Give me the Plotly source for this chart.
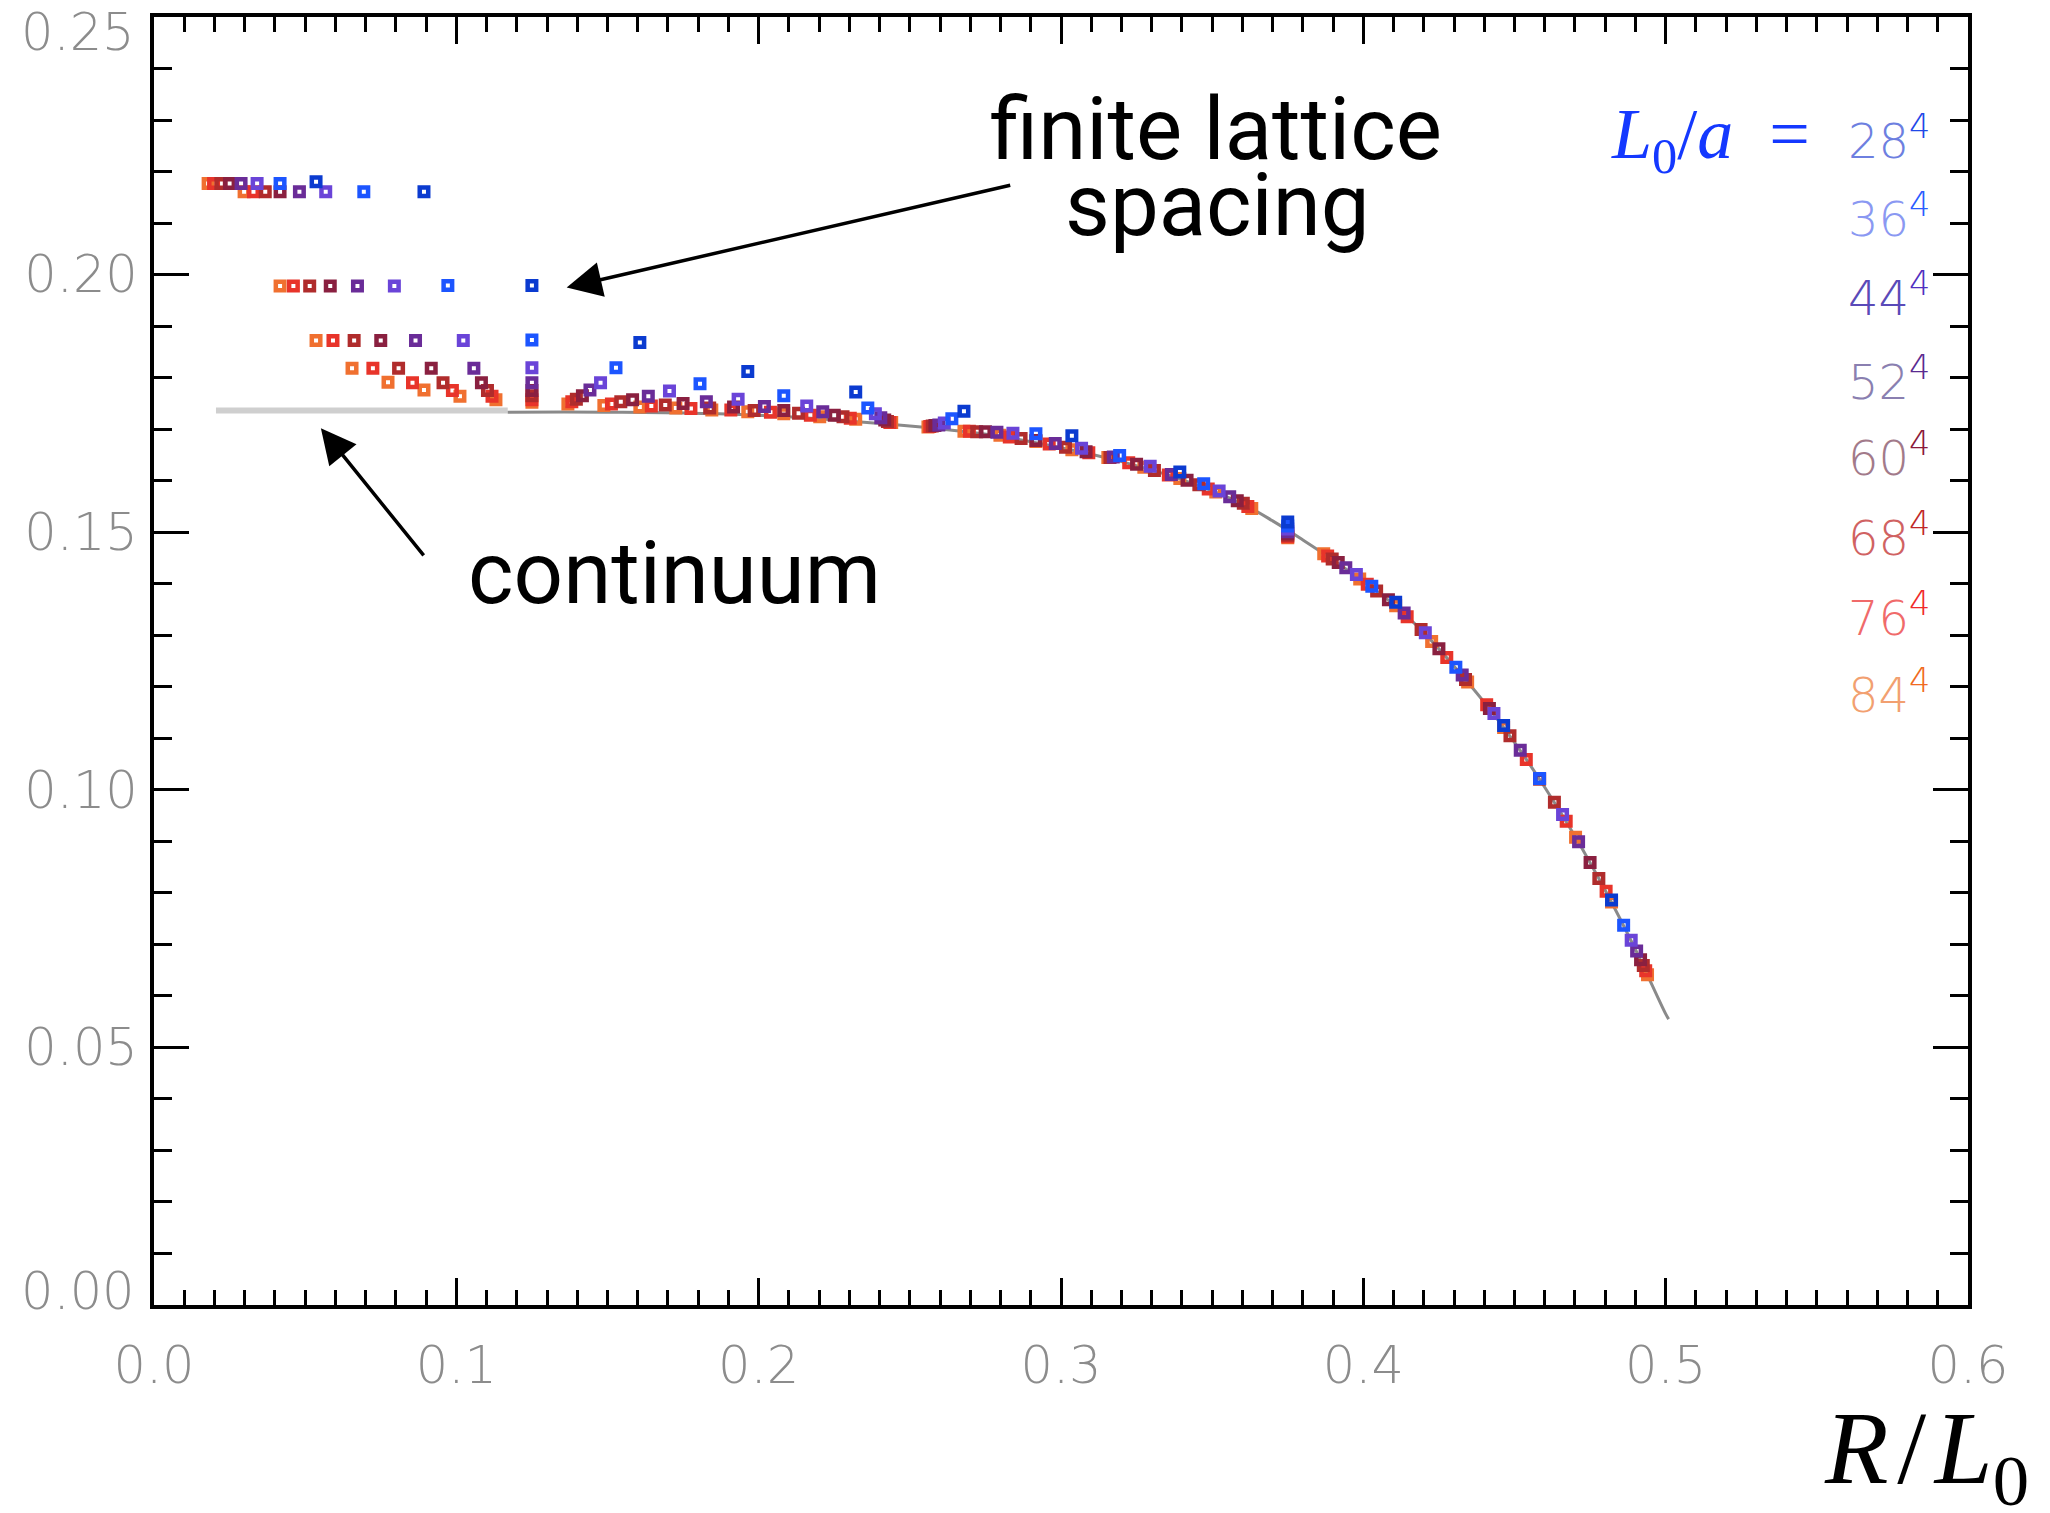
import plotly.graph_objects as go

# ---------------- data ----------------
lattice_labels = ["28", "36", "44", "52", "60", "68", "76", "84"]
series_colors = ["#0b3bd0", "#1c55ff", "#6a44d8", "#6a2c98", "#8a2040", "#b02c2c", "#e8342a", "#f07030"]
label_colors = ["#6d7fe0", "#8a98f2", "#5a4ab8", "#8a7fb0", "#a27a8a", "#d06262", "#f06a6a", "#f2a070"]
sup_colors = ["#1f48e8", "#2a5cff", "#5030c0", "#5a2a90", "#8a1a3a", "#c02828", "#f02a2a", "#f06a20"]

x28 = [0.0536, 0.0893, 0.1250, 0.1607, 0.1964, 0.2321, 0.2679, 0.3036, 0.3393, 0.3750, 0.4107, 0.4464, 0.4821]
y28 = [0.2180, 0.2161, 0.1979, 0.1868, 0.1812, 0.1772, 0.1735, 0.1687, 0.1617, 0.1520, 0.1364, 0.1125, 0.0786]

x36 = [0.0417, 0.0694, 0.0972, 0.1250, 0.1528, 0.1806, 0.2083, 0.2361, 0.2639, 0.2917, 0.3194, 0.3472, 0.3750,
       0.4028, 0.4306, 0.4583, 0.4861]
y36 = [0.2177, 0.2161, 0.1979, 0.1873, 0.1819, 0.1788, 0.1765, 0.1741, 0.1720, 0.1691, 0.1649, 0.1594, 0.1512,
       0.1395, 0.1238, 0.1022, 0.0737]

x44 = [0.0341, 0.0568, 0.0795, 0.1023, 0.1250, 0.1477, 0.1705, 0.1932, 0.2159, 0.2386, 0.2614, 0.2841, 0.3068,
       0.3295, 0.3523, 0.3750, 0.3977, 0.4205, 0.4432, 0.4659, 0.4886]
y44 = [0.2177, 0.2161, 0.1978, 0.1872, 0.1819, 0.1790, 0.1774, 0.1758, 0.1745, 0.1730, 0.1712, 0.1692, 0.1663,
       0.1628, 0.1580, 0.1506, 0.1418, 0.1305, 0.1148, 0.0952, 0.0708]

x52 = [0.0288, 0.0481, 0.0673, 0.0865, 0.1058, 0.1250, 0.1442, 0.1635, 0.1827, 0.2019, 0.2212, 0.2404, 0.2596,
       0.2788, 0.2981, 0.3173, 0.3365, 0.3558, 0.3750, 0.3942, 0.4135, 0.4327, 0.4519, 0.4712, 0.4904]
y52 = [0.2177, 0.2161, 0.1978, 0.1872, 0.1818, 0.1790, 0.1776, 0.1764, 0.1753, 0.1744, 0.1734, 0.1722, 0.1708,
       0.1694, 0.1672, 0.1646, 0.1612, 0.1569, 0.1501, 0.1431, 0.1343, 0.1223, 0.1077, 0.0899, 0.0687]

x60 = [0.0250, 0.0417, 0.0583, 0.0750, 0.0917, 0.1083, 0.1250, 0.1417, 0.1583, 0.1750, 0.1917, 0.2083, 0.2250,
       0.2417, 0.2583, 0.2750, 0.2917, 0.3083, 0.3250, 0.3417, 0.3583, 0.3750, 0.3917, 0.4083, 0.4250, 0.4417,
       0.4583, 0.4750, 0.4917]
y60 = [0.2177, 0.2161, 0.1978, 0.1872, 0.1818, 0.1790, 0.1775, 0.1765, 0.1757, 0.1750, 0.1743, 0.1736, 0.1727,
       0.1718, 0.1707, 0.1695, 0.1678, 0.1656, 0.1632, 0.1601, 0.1561, 0.1497, 0.1441, 0.1369, 0.1274, 0.1158,
       0.1021, 0.0859, 0.0670]

x68 = [0.0221, 0.0368, 0.0515, 0.0662, 0.0809, 0.0956, 0.1103, 0.1250, 0.1397, 0.1544, 0.1691, 0.1838, 0.1985,
       0.2132, 0.2279, 0.2426, 0.2574, 0.2721, 0.2868, 0.3015, 0.3162, 0.3309, 0.3456, 0.3603, 0.3750, 0.3897,
       0.4044, 0.4191, 0.4338, 0.4485, 0.4632, 0.4779, 0.4926]
y68 = [0.2177, 0.2161, 0.1978, 0.1872, 0.1818, 0.1790, 0.1775, 0.1765, 0.1758, 0.1753, 0.1747, 0.1741, 0.1736,
       0.1731, 0.1724, 0.1715, 0.1706, 0.1695, 0.1682, 0.1665, 0.1645, 0.1620, 0.1592, 0.1556, 0.1494, 0.1448,
       0.1386, 0.1311, 0.1214, 0.1105, 0.0976, 0.0828, 0.0659]

x76 = [0.0197, 0.0329, 0.0461, 0.0592, 0.0724, 0.0855, 0.0987, 0.1118, 0.1250, 0.1382, 0.1513, 0.1645, 0.1776,
       0.1908, 0.2039, 0.2171, 0.2303, 0.2434, 0.2566, 0.2697, 0.2829, 0.2961, 0.3092, 0.3224, 0.3355, 0.3487,
       0.3618, 0.3750, 0.3882, 0.4013, 0.4145, 0.4276, 0.4408, 0.4539, 0.4671, 0.4803, 0.4934]
y76 = [0.2177, 0.2161, 0.1978, 0.1872, 0.1818, 0.1790, 0.1775, 0.1764, 0.1757, 0.1753, 0.1749, 0.1745, 0.1740,
       0.1737, 0.1733, 0.1727, 0.1721, 0.1713, 0.1705, 0.1696, 0.1685, 0.1671, 0.1654, 0.1635, 0.1611, 0.1584,
       0.1550, 0.1491, 0.1454, 0.1399, 0.1336, 0.1257, 0.1165, 0.1059, 0.0939, 0.0803, 0.0649]

x84 = [0.0179, 0.0298, 0.0417, 0.0536, 0.0655, 0.0774, 0.0893, 0.1012, 0.1131, 0.1250, 0.1369, 0.1488, 0.1607,
       0.1726, 0.1845, 0.1964, 0.2083, 0.2202, 0.2321, 0.2440, 0.2560, 0.2679, 0.2798, 0.2917, 0.3036, 0.3155,
       0.3274, 0.3393, 0.3512, 0.3631, 0.3750, 0.3869, 0.3988, 0.4107, 0.4226, 0.4345, 0.4464, 0.4583, 0.4702,
       0.4821, 0.4940]
y84 = [0.2177, 0.2161, 0.1978, 0.1872, 0.1818, 0.1791, 0.1776, 0.1764, 0.1757, 0.1752, 0.1749, 0.1746, 0.1743,
       0.1741, 0.1737, 0.1734, 0.1730, 0.1724, 0.1719, 0.1713, 0.1704, 0.1696, 0.1688, 0.1676, 0.1660, 0.1645,
       0.1626, 0.1604, 0.1578, 0.1546, 0.1489, 0.1458, 0.1409, 0.1357, 0.1288, 0.1209, 0.1121, 0.1021, 0.0908,
       0.0782, 0.0641]

# continuum curve (light part at small R/L0, then the thin curve)
cont_light_x = [0.0205, 0.117]
cont_light_y = [0.1736, 0.1736]
cont_x = [0.117, 0.15, 0.20, 0.25, 0.28, 0.30, 0.32, 0.34, 0.36, 0.37, 0.38, 0.39, 0.40, 0.41, 0.42, 0.43,
          0.44, 0.45, 0.46, 0.47, 0.48, 0.49, 0.50, 0.501]
cont_y = [0.1733, 0.1733, 0.1727, 0.1706, 0.1686, 0.1664, 0.1637, 0.1602, 0.1555, 0.1522, 0.1485, 0.1446,
          0.1404, 0.1360, 0.1305, 0.1240, 0.1170, 0.1092, 0.1005, 0.0910, 0.0805, 0.0690, 0.0565, 0.0555]

x_tick_vals = [0.0, 0.1, 0.2, 0.3, 0.4, 0.5, 0.6]
y_tick_vals = [0.05, 0.10, 0.15, 0.20]
y_edge_labels = ["0.25", "0.00"]

xs_all = [x28, x36, x44, x52, x60, x68, x76, x84]
ys_all = [y28, y36, y44, y52, y60, y68, y76, y84]

# ---------------- figure ----------------
fig = go.Figure()
fig.add_trace(go.Scatter(x=cont_light_x, y=cont_light_y, mode="lines",
                         line=dict(color="#cfcfcf", width=6), hoverinfo="skip", showlegend=False))
fig.add_trace(go.Scatter(x=cont_x, y=cont_y, mode="lines",
                         line=dict(color="#8a8a8a", width=3, shape="spline"), hoverinfo="skip",
                         showlegend=False))

for i in reversed(range(len(lattice_labels))):
    fig.add_trace(go.Scatter(
        x=xs_all[i], y=ys_all[i], mode="markers", name=lattice_labels[i] + "^4",
        marker=dict(symbol="square-open", size=8.5, color=series_colors[i],
                    line=dict(width=4.5, color=series_colors[i])),
        showlegend=False))

tick_font = dict(family="DejaVu Sans", size=51, color="#8c8c8c", weight=200)

fig.update_layout(
    width=2050, height=1513, autosize=False,
    margin=dict(l=154, r=82, t=17, b=208, pad=0),
    paper_bgcolor="white", plot_bgcolor="white",
    showlegend=False,
    xaxis=dict(range=[0, 0.6], tickvals=x_tick_vals, tickformat=".1f",
               showline=True, linecolor="black", linewidth=4, mirror="ticks",
               ticks="inside", ticklen=27, tickwidth=3, tickcolor="black",
               showgrid=False, zeroline=False, tickfont=tick_font, ticklabelstandoff=13,
               minor=dict(ticks="inside", dtick=0.01, tick0=0, ticklen=15, tickwidth=3, tickcolor="black",
                          showgrid=False)),
    yaxis=dict(range=[0, 0.25], tickvals=y_tick_vals, tickformat=".2f",
               showline=True, linecolor="black", linewidth=4, mirror="ticks",
               ticks="inside", ticklen=35, tickwidth=3, tickcolor="black",
               showgrid=False, zeroline=False, tickfont=tick_font, ticklabelstandoff=2,
               minor=dict(ticks="inside", dtick=0.01, tick0=0, ticklen=18, tickwidth=3, tickcolor="black",
                          showgrid=False)),
)

ann = []
# y-axis labels at the two ends (drawn slightly inset like the original)
for lab, py in zip(y_edge_labels, [0.9876, 0.0101]):
    ann.append(dict(x=-0.0095, y=py, xref="paper", yref="paper", text=lab, showarrow=False,
                    xanchor="right", yanchor="middle", font=tick_font))
# text labels
txt_font = dict(family="Roboto", size=87, color="black")
ann.append(dict(x=0.3512, y=0.2283, xref="x", yref="y", text="finite lattice", showarrow=False,
                font=txt_font, xanchor="center", yanchor="middle"))
ann.append(dict(x=0.3517, y=0.2136, xref="x", yref="y", text="spacing", showarrow=False,
                font=txt_font, xanchor="center", yanchor="middle"))
ann.append(dict(x=0.1720, y=0.1421, xref="x", yref="y", text="continuum", showarrow=False,
                font=txt_font, xanchor="center", yanchor="middle"))
# arrows
ann.append(dict(x=0.1365, y=0.1975, ax=0.2837, ay=0.2174, xref="x", yref="y", axref="x", ayref="y",
                text="", showarrow=True, arrowhead=2, arrowsize=2.0, arrowwidth=3.5, arrowcolor="black",
                standoff=0, startstandoff=0))
ann.append(dict(x=0.0552, y=0.1702, ax=0.0896, ay=0.1452, xref="x", yref="y", axref="x", ayref="y",
                text="", showarrow=True, arrowhead=2, arrowsize=2.0, arrowwidth=3.5, arrowcolor="black",
                standoff=0, startstandoff=0))
# legend header
ann.append(dict(x=0.5485, y=0.2263, xref="x", yref="y",
                text="<i>L</i><sub>0</sub>/<i>a</i>&nbsp;&nbsp;=",
                showarrow=False, xanchor="right", yanchor="middle",
                font=dict(family="Liberation Serif", size=72, color="#1438ff")))
# legend entries
legend_y = [0.2266, 0.2113, 0.1960, 0.1797, 0.1650, 0.1495, 0.1339, 0.1190]
for lab, c, sc, ly in zip(lattice_labels, label_colors, sup_colors, legend_y):
    ann.append(dict(x=0.5595, y=ly, xref="x", yref="y",
                    text=f"{lab}<sup><span style='color:{sc}'>4</span></sup>",
                    showarrow=False, xanchor="left", yanchor="middle",
                    font=dict(family="DejaVu Sans", size=48, color=c, weight=200)))
# x axis title
ann.append(dict(x=1.0345, y=-0.117, xref="paper", yref="paper",
                text="<i>R</i>\u200a/\u200a<i>L</i><sub>0</sub>", showarrow=False,
                xanchor="right", yanchor="middle",
                font=dict(family="Liberation Serif", size=104, color="black")))

fig.update_layout(annotations=ann)
fig.write_html("out.html")
